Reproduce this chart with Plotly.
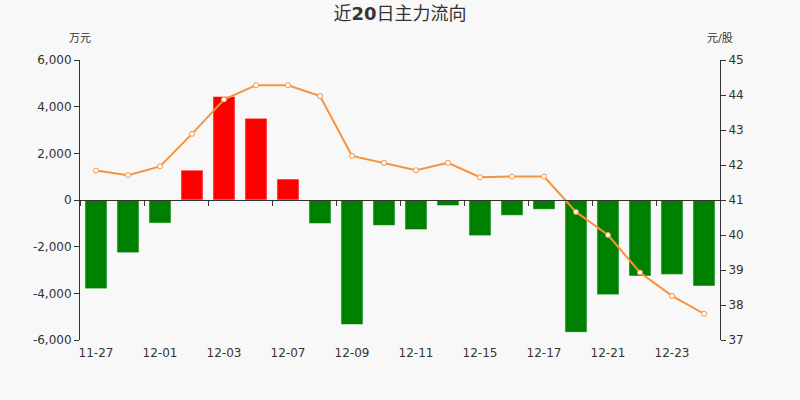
import plotly.graph_objects as go

dates = ["11-27", "11-30", "12-01", "12-02", "12-03", "12-04", "12-07", "12-08", "12-09", "12-10",
         "12-11", "12-14", "12-15", "12-16", "12-17", "12-18", "12-21", "12-22", "12-23", "12-24"]
flow = [-3800, -2260, -990, 1280, 4440, 3500, 900, -1010, -5340, -1090,
        -1270, -240, -1530, -660, -400, -5670, -4060, -3260, -3190, -3690]
price = [41.84, 41.71, 41.96, 42.89, 43.87, 44.28, 44.28, 43.97, 42.26, 42.06,
         41.85, 42.06, 41.65, 41.67, 41.67, 40.66, 40.00, 38.93, 38.26, 37.75]

left_ticks = [-6000, -4000, -2000, 0, 2000, 4000, 6000]
left_ticktext = ["-6,000", "-4,000", "-2,000", "0", "2,000", "4,000", "6,000"]
right_ticks = [37, 38, 39, 40, 41, 42, 43, 44, 45]

title_pre, title_num, title_post = "近", "20", "日主力流向"
left_unit = "万元"
right_unit = "元/股"

bar_colors = ["#ff0000" if v > 0 else "#008000" for v in flow]
FONT = "DejaVu Sans, Noto Sans CJK SC, sans-serif"
AX = "#333333"
xr = [-0.5, len(dates) - 0.5]

fig = go.Figure()
fig.add_trace(go.Bar(
    x=dates, y=flow, xaxis="x", yaxis="y",
    marker=dict(color=bar_colors, line=dict(color="rgba(255,255,255,0.55)", width=1)),
    showlegend=False,
))
fig.add_trace(go.Scatter(
    x=dates, y=price, xaxis="x2", yaxis="y2", mode="lines+markers",
    line=dict(color="#f7923a", width=2),
    marker=dict(symbol="circle", size=5, color="#ffffff", line=dict(color="#f7923a", width=1)),
    showlegend=False,
))

fig.update_layout(
    width=800, height=400,
    margin=dict(l=80, r=80, t=60, b=60),
    paper_bgcolor="#f8f8f8", plot_bgcolor="#f8f8f8",
    font=dict(family=FONT, size=12, color=AX),
    bargap=0.31,
    title=dict(text=title_pre + "<b>" + title_num + "</b>" + title_post, x=0.5, xanchor="center",
               y=0.965, yanchor="middle", font=dict(size=18, color=AX, family=FONT)),
    xaxis=dict(type="category", categoryorder="array", categoryarray=dates, range=xr,
               tickmode="linear", tick0=0, dtick=2, ticks="", showline=False,
               showgrid=False, zeroline=False, ticklabelstandoff=4,
               tickfont=dict(size=12, color=AX)),
    xaxis2=dict(type="category", categoryorder="array", categoryarray=dates, range=xr,
                overlaying="x", anchor="free", position=0.5,
                tickmode="linear", tick0=0, dtick=2, tickson="boundaries",
                ticks="outside", ticklen=5, tickcolor=AX, showline=True, linecolor=AX, linewidth=1,
                showticklabels=False, showgrid=False, zeroline=False),
    yaxis=dict(range=[-6000, 6000], tickmode="array", tickvals=left_ticks, ticktext=left_ticktext,
               ticks="outside", ticklen=5, tickcolor=AX, showline=True, linecolor=AX, linewidth=1,
               showgrid=False, zeroline=False, tickfont=dict(size=12, color=AX)),
    yaxis2=dict(range=[37, 45], overlaying="y", side="right", anchor="x2",
                tickmode="array", tickvals=right_ticks,
                ticks="outside", ticklen=5, tickcolor=AX, showline=True, linecolor=AX, linewidth=1,
                showgrid=False, zeroline=False, tickfont=dict(size=12, color=AX)),
    annotations=[
        dict(text=left_unit, xref="paper", yref="paper", x=0, y=1.0, yshift=22,
             xanchor="center", yanchor="middle", showarrow=False, font=dict(size=11, color=AX)),
        dict(text=right_unit, xref="paper", yref="paper", x=1, y=1.0, yshift=22,
             xanchor="center", yanchor="middle", showarrow=False, font=dict(size=11, color=AX)),
    ],
)

fig.write_html("out.html")
